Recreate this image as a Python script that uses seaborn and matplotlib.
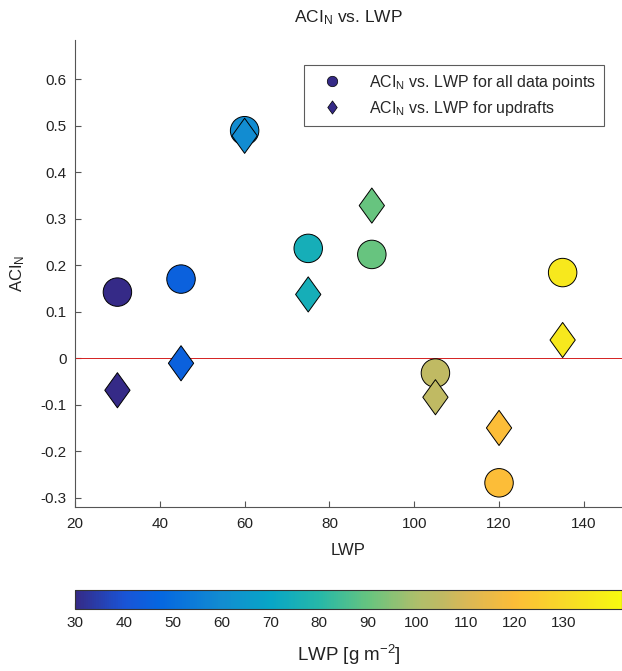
import numpy as np
import pandas as pd
import matplotlib
matplotlib.use("Agg")
import matplotlib.pyplot as plt
import seaborn as sns
from matplotlib.colors import LinearSegmentedColormap, Normalize
from matplotlib.path import Path
from matplotlib.lines import Line2D

# ── Data ──
lwp = [30, 45, 60, 75, 90, 105, 120, 135]
aci_all = [0.142, 0.170, 0.489, 0.236, 0.223, -0.032, -0.268, 0.184]
aci_updraft = [-0.069, -0.011, 0.478, 0.137, 0.328, -0.084, -0.150, 0.039]
yticks = [-0.3, -0.2, -0.1, 0, 0.1, 0.2, 0.3, 0.4, 0.5, 0.6]
xticks = [20, 40, 60, 80, 100, 120, 140]
cbar_ticks = [30, 40, 50, 60, 70, 80, 90, 100, 110, 120, 130]

df_all = pd.DataFrame({"LWP": lwp, "ACI": aci_all})
df_up = pd.DataFrame({"LWP": lwp, "ACI": aci_updraft})

# ── parula-like colormap (anchors, in LWP units) ──
CMIN, CMAX = 30, 142
anchors = [
    (30, (0.208, 0.166, 0.529)),
    (40, (0.10, 0.33, 0.84)),
    (47, (0.02, 0.40, 0.88)),
    (60, (0.07, 0.55, 0.82)),
    (70, (0.03, 0.65, 0.78)),
    (80, (0.15, 0.72, 0.66)),
    (90, (0.40, 0.77, 0.50)),
    (100, (0.68, 0.75, 0.42)),
    (105, (0.75, 0.73, 0.39)),
    (110, (0.85, 0.72, 0.34)),
    (120, (0.99, 0.74, 0.22)),
    (130, (0.97, 0.85, 0.16)),
    (142, (0.97, 0.98, 0.06)),
]
parula = LinearSegmentedColormap.from_list(
    "parula", [((v - CMIN) / (CMAX - CMIN), c) for v, c in anchors])
cnorm = Normalize(CMIN, CMAX)

diamond = Path([(0, 1), (0.72, 0), (0, -1), (-0.72, 0), (0, 1)],
               [Path.MOVETO, Path.LINETO, Path.LINETO, Path.LINETO, Path.CLOSEPOLY])

sns.set_style("white")
plt.rcParams["font.family"] = ["Liberation Sans", "DejaVu Sans"]
plt.rcParams["axes.unicode_minus"] = False
plt.rcParams["mathtext.fontset"] = "custom"
plt.rcParams["mathtext.rm"] = "Liberation Sans"
plt.rcParams["mathtext.it"] = "Liberation Sans"

fig = plt.figure(figsize=(6.22, 6.71), dpi=100)
ax = fig.add_axes([0.1206, 0.2444, 0.8794, 0.6960])
cax = fig.add_axes([0.1206, 0.0924, 0.8794, 0.0283])

ax.axhline(0, color="#D42020", linewidth=0.7, zorder=1)

sns.scatterplot(data=df_all, x="LWP", y="ACI", hue="LWP", palette=parula, hue_norm=cnorm,
                marker="o", s=420, edgecolor="black", linewidth=0.7, legend=False, ax=ax, zorder=3)
sns.scatterplot(data=df_up, x="LWP", y="ACI", hue="LWP", palette=parula, hue_norm=cnorm,
                marker=diamond, s=640, edgecolor="black", linewidth=0.7, legend=False, ax=ax, zorder=3)

ax.set_xlim(20, 149)
ax.set_ylim(-0.32, 0.684)
ax.set_xticks(xticks)
ax.set_yticks(yticks)
ax.set_yticklabels([f"{t:g}" for t in yticks])
ax.tick_params(direction="in", length=4, width=0.8, labelsize=11, color="#555555",
               labelcolor="#222222", bottom=True, left=True)
ax.tick_params(axis="x", pad=7)
ax.tick_params(axis="y", pad=6)
for side in ["top", "right"]:
    ax.spines[side].set_visible(False)
for side in ["left", "bottom"]:
    ax.spines[side].set_color("#555555")
    ax.spines[side].set_linewidth(0.8)
ax.set_xlabel("LWP", fontsize=12, color="#222222", labelpad=9)
ax.set_ylabel("ACI$_\\mathregular{N}$", fontsize=12, color="#222222", labelpad=10)
ax.set_title("ACI$_\\mathregular{N}$ vs. LWP", fontsize=12.5, color="#222222", pad=13)

c0 = parula(0.0)
handles = [
    Line2D([], [], marker="o", linestyle="none", markersize=7.5, markerfacecolor=c0,
           markeredgecolor="black", markeredgewidth=0.5),
    Line2D([], [], marker=diamond, linestyle="none", markersize=9.5, markerfacecolor=c0,
           markeredgecolor="black", markeredgewidth=0.5),
]
leg = ax.legend(handles, ["ACI$_\\mathregular{N}$ vs. LWP for all data points",
                          "ACI$_\\mathregular{N}$ vs. LWP for updrafts"],
                loc="upper right", bbox_to_anchor=(0.982, 0.964), fontsize=11.5, frameon=True,
                fancybox=False, edgecolor="#333333", handlelength=2.6, handletextpad=1.0,
                borderpad=0.5, labelspacing=0.45)
leg.get_frame().set_linewidth(0.8)

sm = plt.cm.ScalarMappable(cmap=parula, norm=cnorm)
cb = fig.colorbar(sm, cax=cax, orientation="horizontal", ticks=cbar_ticks)
cb.ax.tick_params(direction="in", length=4, width=0.8, labelsize=11, color="#222222",
                  labelcolor="#222222", pad=5, bottom=True)
cb.outline.set_edgecolor("#333333")
cb.outline.set_linewidth(0.8)
cb.set_label("LWP [g m$^{\\mathregular{-2}}$]", fontsize=13.5, color="#222222", labelpad=9)

fig.savefig("out.png", dpi=100)
